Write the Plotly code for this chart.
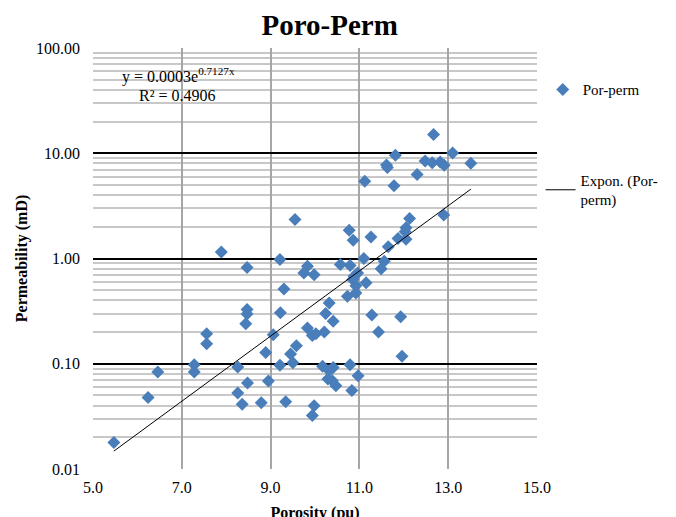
import numpy as np
import plotly.graph_objects as go

porosity = [5.47, 6.24, 6.46, 7.28, 7.28, 7.56, 7.56, 7.89, 8.47, 8.47, 8.47, 8.44,
            8.26, 8.48, 8.26, 8.36, 8.79, 9.06, 8.89, 8.95, 9.21, 9.30, 9.22, 9.21,
            9.34, 9.58, 9.45, 9.50, 9.55, 9.75, 9.83, 9.98, 9.83, 9.94, 10.02, 9.98,
            9.94, 10.21, 10.24, 10.32, 10.41, 10.17, 10.41, 10.32, 10.29, 10.39, 10.47,
            10.83, 10.79, 10.97, 10.57, 10.79, 10.73, 10.92, 10.92, 10.85, 10.88, 10.96,
            11.15, 11.10, 10.77, 10.86, 11.26, 11.28, 11.43, 11.49, 11.56, 11.65, 11.87,
            12.05, 12.03, 12.05, 12.13, 11.93, 11.96, 11.12, 11.78, 11.61, 11.63, 11.81,
            12.30, 12.48, 12.64, 12.67, 12.82, 12.91, 13.10, 13.51, 12.90]
permeability = [0.0179, 0.0477, 0.0834, 0.0977, 0.0834, 0.193, 0.155, 1.15, 0.82, 0.327, 0.297, 0.240,
                0.093, 0.0655, 0.0526, 0.0413, 0.0425, 0.189, 0.128, 0.0684, 0.977, 0.514, 0.306, 0.097,
                0.0435, 0.148, 0.124, 0.102, 2.35, 0.73, 0.846, 0.70, 0.219, 0.186, 0.193, 0.040,
                0.0323, 0.20, 0.30, 0.378, 0.253, 0.0945, 0.0923, 0.0856, 0.0715, 0.069, 0.0617,
                0.0557, 0.0977, 0.077, 0.877, 0.86, 0.438, 0.471, 0.55, 0.63, 0.678, 0.73,
                0.587, 1.00, 1.86, 1.49, 1.60, 0.29, 0.20, 0.80, 0.94, 1.29, 1.55,
                1.52, 1.80, 1.96, 2.40, 0.28, 0.118, 5.41, 4.92, 7.74, 7.32, 9.57,
                6.27, 8.45, 8.14, 15.1, 8.26, 7.69, 10.07, 8.03, 2.59]

fit_a = 0.0003
fit_b = 0.7127
r_squared = 0.4906

x_ticks = [5, 7, 9, 11, 13, 15]
x_tick_labels = ["5.0", "7.0", "9.0", "11.0", "13.0", "15.0"]
y_ticks = [0.01, 0.1, 1, 10, 100]
y_tick_labels = ["0.01", "0.10", "1.00", "10.00", "100.00"]

FONT = "Liberation Serif, Times New Roman, serif"

fit_x = np.linspace(min(porosity), max(porosity), 60)
fit_y = fit_a * np.exp(fit_b * fit_x)

fig = go.Figure()
fig.add_trace(go.Scatter(
    x=porosity, y=permeability, mode="markers", name="Por-perm",
    marker=dict(symbol="diamond", size=10, color="#4A7EBB"),
    legend="legend", showlegend=True))
fig.add_trace(go.Scatter(
    x=fit_x, y=fit_y, mode="lines", name="Expon. (Por-<br>perm)",
    line=dict(color="black", width=1), legend="legend2", showlegend=True))

fig.update_layout(
    width=676, height=517,
    margin=dict(l=85, r=147, t=40, b=56, autoexpand=False),
    paper_bgcolor="white", plot_bgcolor="white",
    font=dict(family=FONT, color="black", size=16),
    showlegend=True,
    title=dict(text="<b>Poro-Perm</b>", x=0.533, xref="paper", xanchor="center",
               y=0.967, yref="container", yanchor="middle",
               font=dict(family=FONT, size=29, color="black")),
    xaxis=dict(range=[5, 15], tickvals=x_ticks, ticktext=x_tick_labels,
               showgrid=True, gridcolor="#a6a6a6", gridwidth=1.5,
               zeroline=False, showline=False, ticks="", automargin=False,
               ticklabelstandoff=7,
               tickfont=dict(family=FONT, size=16),
               title=dict(text="<b>Porosity (pu)</b>", font=dict(family=FONT, size=16), standoff=11)),
    yaxis=dict(type="log", range=[-2, 2], tickvals=y_ticks, ticktext=y_tick_labels,
               showgrid=True, gridcolor="black", gridwidth=2,
               zeroline=False, showline=False, ticks="", automargin=False,
               ticklabelstandoff=12,
               tickfont=dict(family=FONT, size=16),
               minor=dict(showgrid=True, gridcolor="#c8c8c8", gridwidth=1.5, dtick="D1"),
               title=dict(text="<b>Permeability (mD)</b>", font=dict(family=FONT, size=16), standoff=4)),
    legend=dict(x=1.013, y=0.94, xanchor="left", yanchor="top",
                font=dict(family=FONT, size=15), bgcolor="rgba(0,0,0,0)"),
    legend2=dict(x=1.008, y=0.725, xanchor="left", yanchor="top",
                 font=dict(family=FONT, size=15), bgcolor="rgba(0,0,0,0)"),
    annotations=[
        dict(text="y = 0.0003e<sup>0.7127x</sup>", xref="paper", yref="paper",
             x=0.061, y=0.934, xanchor="left", yanchor="middle", showarrow=False,
             font=dict(family=FONT, size=16)),
        dict(text="R² = 0.4906", xref="paper", yref="paper",
             x=0.099, y=0.886, xanchor="left", yanchor="middle", showarrow=False,
             font=dict(family=FONT, size=16)),
    ],
)

fig.write_html("out.html")
